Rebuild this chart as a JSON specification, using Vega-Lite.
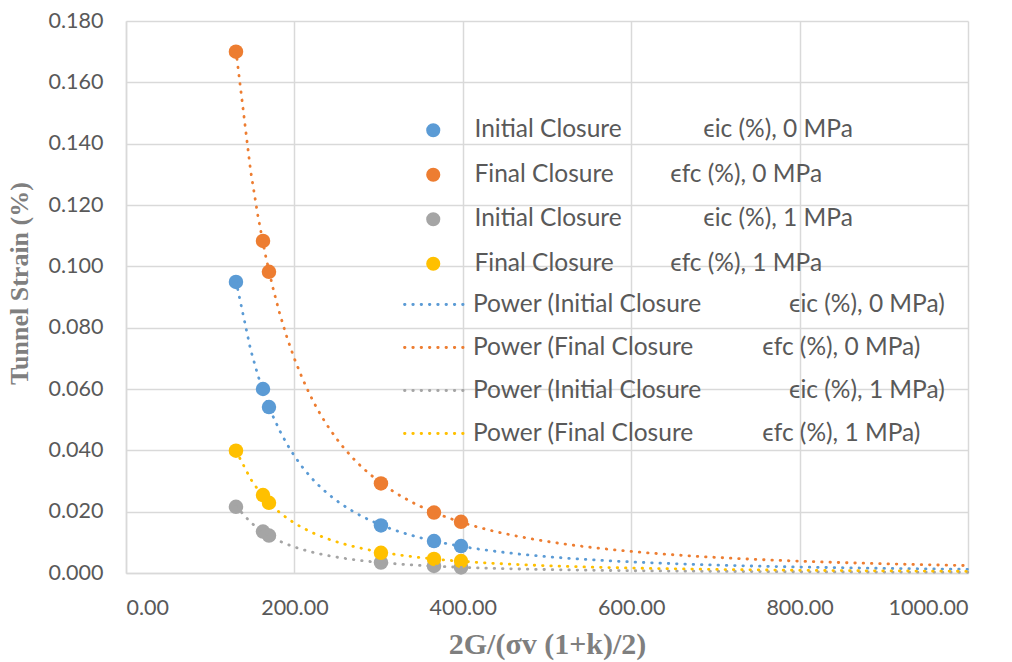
{
  "$schema": "https://vega.github.io/schema/vega-lite/v6.json",
  "width": 842,
  "height": 552,
  "autosize": "none",
  "padding": {"left": 126, "top": 21, "right": 44, "bottom": 89},
  "background": "white",
  "config": {"view": {"stroke": null}, "font": "Lato"},
  "data": {
    "values": [
      {"x": 130.6, "y": 0.0949, "series": "Initial Closure 0", "trend": "Power Initial 0"},
      {"x": 162.7, "y": 0.0600, "series": "Initial Closure 0", "trend": "Power Initial 0"},
      {"x": 169.8, "y": 0.0541, "series": "Initial Closure 0", "trend": "Power Initial 0"},
      {"x": 302.8, "y": 0.0155, "series": "Initial Closure 0", "trend": "Power Initial 0"},
      {"x": 365.8, "y": 0.0104, "series": "Initial Closure 0", "trend": "Power Initial 0"},
      {"x": 397.9, "y": 0.0088, "series": "Initial Closure 0", "trend": "Power Initial 0"},
      {"x": 130.6, "y": 0.1700, "series": "Final Closure 0", "trend": "Power Final 0"},
      {"x": 162.7, "y": 0.1083, "series": "Final Closure 0", "trend": "Power Final 0"},
      {"x": 169.8, "y": 0.0982, "series": "Final Closure 0", "trend": "Power Final 0"},
      {"x": 302.8, "y": 0.0292, "series": "Final Closure 0", "trend": "Power Final 0"},
      {"x": 365.8, "y": 0.0197, "series": "Final Closure 0", "trend": "Power Final 0"},
      {"x": 397.9, "y": 0.0167, "series": "Final Closure 0", "trend": "Power Final 0"},
      {"x": 130.6, "y": 0.0216, "series": "Initial Closure 1", "trend": "Power Initial 1"},
      {"x": 162.7, "y": 0.0135, "series": "Initial Closure 1", "trend": "Power Initial 1"},
      {"x": 169.8, "y": 0.0122, "series": "Initial Closure 1", "trend": "Power Initial 1"},
      {"x": 302.8, "y": 0.0034, "series": "Initial Closure 1", "trend": "Power Initial 1"},
      {"x": 365.8, "y": 0.0023, "series": "Initial Closure 1", "trend": "Power Initial 1"},
      {"x": 397.9, "y": 0.0018, "series": "Initial Closure 1", "trend": "Power Initial 1"},
      {"x": 130.6, "y": 0.0399, "series": "Final Closure 1", "trend": "Power Final 1"},
      {"x": 162.7, "y": 0.0254, "series": "Final Closure 1", "trend": "Power Final 1"},
      {"x": 169.8, "y": 0.0229, "series": "Final Closure 1", "trend": "Power Final 1"},
      {"x": 302.8, "y": 0.0066, "series": "Final Closure 1", "trend": "Power Final 1"},
      {"x": 365.8, "y": 0.0046, "series": "Final Closure 1", "trend": "Power Final 1"},
      {"x": 397.9, "y": 0.0039, "series": "Final Closure 1", "trend": "Power Final 1"}
    ]
  },
  "encoding": {
    "x": {
      "field": "x", "type": "quantitative",
      "scale": {"domain": [0, 1000], "nice": false},
      "axis": {
        "values": [0, 200, 400, 600, 800, 1000], "format": ".2f",
        "title": "2G/(σv (1+k)/2)",
        "titleFont": "Liberation Serif", "titleFontSize": 30, "titleFontWeight": "bold", "titleColor": "#7f7f7f",
        "titlePadding": 11,
        "labelFont": "Lato", "labelFontSize": 21.5, "labelColor": "#595959", "labelPadding": 24,
        "ticks": false, "domainColor": "#d9d9d9", "domainWidth": 1.5,
        "grid": true, "gridColor": "#d9d9d9", "gridWidth": 1.5
      }
    },
    "y": {
      "field": "y", "type": "quantitative",
      "scale": {"domain": [0, 0.18], "nice": false},
      "axis": {
        "values": [0, 0.02, 0.04, 0.06, 0.08, 0.1, 0.12, 0.14, 0.16, 0.18], "format": ".3f",
        "title": "Tunnel Strain (%)",
        "titleFont": "Liberation Serif", "titleFontSize": 26, "titleFontWeight": "bold", "titleColor": "#7f7f7f",
        "titlePadding": 16, "titleY": 262,
        "labelFont": "Lato", "labelFontSize": 21.5, "labelColor": "#595959", "labelPadding": 23,
        "ticks": false, "domainColor": "#d9d9d9", "domainWidth": 1.5,
        "grid": true, "gridColor": "#d9d9d9", "gridWidth": 1.5
      }
    }
  },
  "layer": [
    {
      "mark": {"type": "point", "filled": true, "size": 210, "opacity": 1, "shape": "circle"},
      "encoding": {
        "fill": {
          "field": "series", "type": "nominal",
          "scale": {
            "domain": ["Initial Closure 0", "Final Closure 0", "Initial Closure 1", "Final Closure 1"],
            "range": ["#5B9BD5", "#ED7D31", "#A5A5A5", "#FFC000"]
          },
          "legend": {
            "orient": "none", "legendX": 295, "legendY": 97, "title": null,
            "symbolType": "circle", "symbolSize": 200, "symbolStrokeWidth": 0,
            "labelFont": "Lato", "labelFontSize": 24.5, "labelColor": "#595959", "labelLimit": 700,
            "labelOffset": 29, "rowPadding": 19.5,
            "labelExpr": "datum.value == 'Initial Closure 0' ? 'Initial Closure\u00a0\u00a0\u00a0\u00a0\u00a0\u00a0\u00a0\u00a0\u00a0\u00a0\u00a0\u00a0\u00a0ϵic (%), 0 MPa' : datum.value == 'Final Closure 0' ? 'Final Closure\u00a0\u00a0\u00a0\u00a0\u00a0\u00a0\u00a0\u00a0\u00a0ϵfc (%), 0 MPa' : datum.value == 'Initial Closure 1' ? 'Initial Closure\u00a0\u00a0\u00a0\u00a0\u00a0\u00a0\u00a0\u00a0\u00a0\u00a0\u00a0\u00a0\u00a0ϵic (%), 1 MPa' : 'Final Closure\u00a0\u00a0\u00a0\u00a0\u00a0\u00a0\u00a0\u00a0\u00a0ϵfc (%), 1 MPa'"
          }
        }
      }
    },
    {
      "transform": [
        {"regression": "y", "on": "x", "groupby": ["trend"], "method": "pow", "extent": [130.6, 1000]}
      ],
      "mark": {"type": "line", "strokeWidth": 2.8, "strokeDash": [0.5, 7.8], "strokeCap": "round"},
      "encoding": {
        "stroke": {
          "field": "trend", "type": "nominal",
          "scale": {
            "domain": ["Power Initial 0", "Power Final 0", "Power Initial 1", "Power Final 1"],
            "range": ["#5B9BD5", "#ED7D31", "#A5A5A5", "#FFC000"]
          },
          "legend": {
            "orient": "none", "legendX": 277, "legendY": 252, "title": null,
            "symbolType": "stroke", "symbolSize": 3600, "symbolStrokeWidth": 2.8, "symbolDash": [0.5, 7.8],
            "labelFont": "Lato", "labelFontSize": 24.5, "labelColor": "#595959", "labelLimit": 700,
            "labelOffset": 7, "rowPadding": 0,
            "encode": {"symbols": {"update": {"strokeCap": {"value": "round"}}}},
            "labelExpr": "datum.value == 'Power Initial 0' ? 'Power (Initial Closure\u00a0\u00a0\u00a0\u00a0\u00a0\u00a0\u00a0\u00a0\u00a0\u00a0\u00a0\u00a0\u00a0\u00a0ϵic (%), 0 MPa)' : datum.value == 'Power Final 0' ? 'Power (Final Closure\u00a0\u00a0\u00a0\u00a0\u00a0\u00a0\u00a0\u00a0\u00a0\u00a0\u00a0ϵfc (%), 0 MPa)' : datum.value == 'Power Initial 1' ? 'Power (Initial Closure\u00a0\u00a0\u00a0\u00a0\u00a0\u00a0\u00a0\u00a0\u00a0\u00a0\u00a0\u00a0\u00a0\u00a0ϵic (%), 1 MPa)' : 'Power (Final Closure\u00a0\u00a0\u00a0\u00a0\u00a0\u00a0\u00a0\u00a0\u00a0\u00a0\u00a0ϵfc (%), 1 MPa)'"
          }
        }
      }
    }
  ]
}
